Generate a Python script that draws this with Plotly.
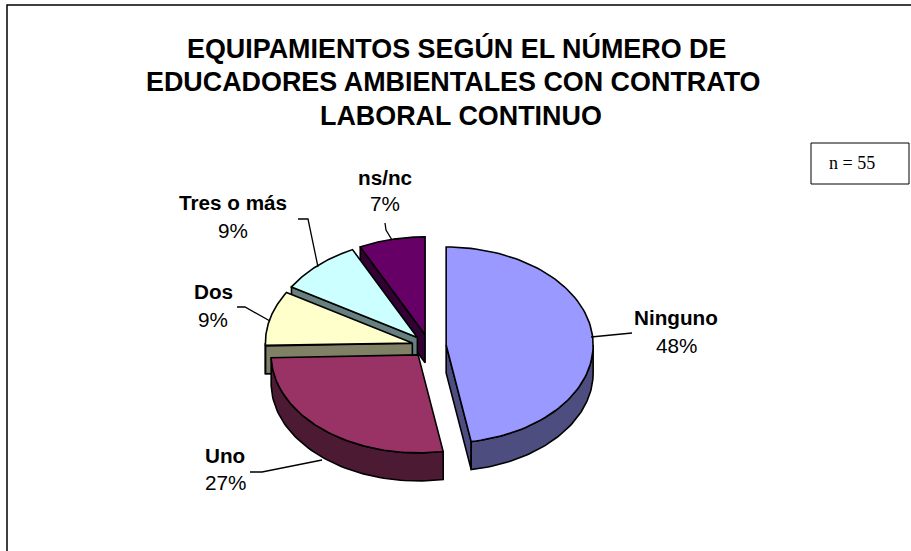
import numpy as np
import plotly.graph_objects as go

# --- data ---
categories = ["Ninguno", "Uno", "Dos", "Tres o más", "ns/nc"]
counts = [26, 15, 5, 5, 4]
percent_labels = ["48%", "27%", "9%", "9%", "7%"]
top_colors = ["#9999FF", "#993366", "#FFFFCC", "#CCFFFF", "#660066"]
wall_colors = ["#4D4D80", "#4D1A33", "#808066", "#668080", "#330033"]
title_lines = ["EQUIPAMIENTOS SEGÚN EL NÚMERO DE",
               "EDUCADORES AMBIENTALES CON CONTRATO",
               "LABORAL CONTINUO"]
sample_note = "n = 55"

# --- layout geometry (pixels of the 911x551 page) ---
W, H = 911, 551
CX, CY, RX, RY, DEPTH, PULL = 429, 346, 147, 98, 28, 0.117
LINE = dict(color="black", width=1.6)
label_pos = [(676, 317, 345), (225, 455, 482), (213, 291, 319), (233, 202, 230), (385, 177, 203)]
leaders = ["M632,333 L591,337", "M250,472 L262,472 L322,460", "M237,307 L245,307 L270,321",
           "M298,219 L308,219 L318,267", "M385,223 L386,230 L392,240"]
title_pos = [(456, 48), (453, 82), (461, 116)]

total = sum(counts)
edges = np.concatenate([[0], np.cumsum(counts)]) / total * 2 * np.pi


def rim(cx, cy, t):
    return cx + RX * np.sin(t), cy - RY * np.cos(t)


def poly(fig, xs, ys, color, name):
    fig.add_trace(go.Scatter(x=list(xs), y=list(ys), mode="lines", fill="toself", fillcolor=color,
                             line=LINE, hoverinfo="skip", showlegend=False, name=name))


fig = go.Figure()
# painted back to front: ns/nc, Tres o más, Dos, Uno, Ninguno
for i in [4, 3, 2, 1, 0]:
    t0, t1 = edges[i], edges[i + 1]
    mid = (t0 + t1) / 2
    cx, cy = CX + PULL * RX * np.sin(mid), CY - PULL * RY * np.cos(mid)
    # radial walls: only those that face the viewer
    faces = []
    if np.pi < t0 < 2 * np.pi:
        faces.append(t0)
    if 0 < t1 < np.pi:
        faces.append(t1)
    for t in faces:
        px, py = rim(cx, cy, t)
        poly(fig, [cx, px, px, cx, cx], [cy, py, py + DEPTH, cy + DEPTH, cy], wall_colors[i], categories[i])
    # outer wall: only the part of the rim that faces the viewer
    a, b = max(t0, np.pi / 2), min(t1, 3 * np.pi / 2)
    if b > a:
        ts = np.linspace(a, b, 60)
        rx, ry = rim(cx, cy, ts)
        poly(fig, np.r_[rx, rx[::-1], rx[0]], np.r_[ry, ry[::-1] + DEPTH, ry[0]], wall_colors[i], categories[i])
    # top face
    ts = np.linspace(t0, t1, 90)
    rx, ry = rim(cx, cy, ts)
    poly(fig, np.r_[cx, rx, cx], np.r_[cy, ry, cy], top_colors[i], categories[i])

shapes = [
    dict(type="path", path=f"M7,{H} L7,5 L{W},5", line=dict(color="black", width=1.5)),
    dict(type="rect", x0=811, x1=909, y0=143, y1=184, line=dict(color="black", width=1), fillcolor="white"),
]
shapes += [dict(type="path", path=p, line=dict(color="black", width=1.3)) for p in leaders]

annotations = []
for line, (x, y) in zip(title_lines, title_pos):
    annotations.append(dict(x=x, y=y, text=f"<b>{line}</b>", showarrow=False,
                            font=dict(family="Liberation Sans", size=26.9, color="black")))
for cat, pct, (x, y1, y2) in zip(categories, percent_labels, label_pos):
    annotations.append(dict(x=x, y=y1, text=f"<b>{cat}</b>", showarrow=False,
                            font=dict(family="Liberation Sans", size=20.7, color="black")))
    annotations.append(dict(x=x, y=y2, text=pct, showarrow=False,
                            font=dict(family="Liberation Sans", size=20.7, color="black")))
annotations.append(dict(x=852, y=163, text=sample_note, showarrow=False,
                        font=dict(family="Liberation Serif", size=18, color="black")))

fig.update_layout(
    width=W, height=H, margin=dict(l=0, r=0, t=0, b=0),
    paper_bgcolor="white", plot_bgcolor="white", showlegend=False,
    xaxis=dict(range=[0, W], visible=False, fixedrange=True),
    yaxis=dict(range=[H, 0], visible=False, fixedrange=True),
    shapes=shapes, annotations=annotations,
)
fig.write_html("out.html", config={"displayModeBar": False},
               post_script="document.body.style.margin='0';document.body.style.overflow='hidden';")
